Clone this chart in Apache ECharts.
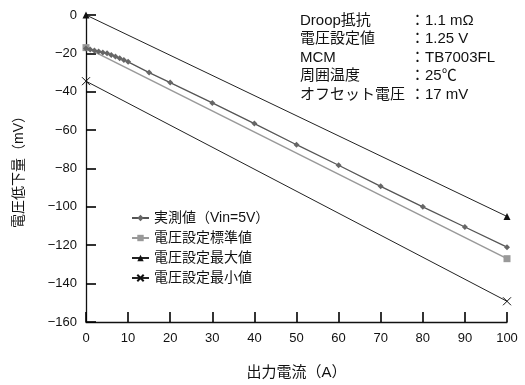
<!DOCTYPE html>
<html><head><meta charset="utf-8">
<script src="https://cdn.jsdelivr.net/npm/echarts@6/dist/echarts.min.js"></script>
<style>html,body{margin:0;padding:0;background:#fff}#c{width:525px;height:385px}</style>
</head><body><div id="c"></div>
<script>
var FONT = '"Liberation Sans", Arial, "Noto Sans CJK JP", sans-serif';
var seriesNames = ['実測値（Vin=5V）', '電圧設定標準値', '電圧設定最大値', '電圧設定最小値'];
var measuredX = [0, 1, 2, 3, 4, 5, 6, 7, 8, 9, 10, 15, 20, 30, 40, 50, 60, 70, 80, 90, 100];
var measuredY = [-17.5, -18, -18.5, -19, -19.5, -20, -20.8, -21.6, -22.5, -23.4, -24.4, -30, -35.2, -45.8, -56.6, -67.6, -78.3, -89.3, -100, -110.5, -121];
var standardX = [0, 100];
var standardY = [-17, -127];
var maxX = [0, 100];
var maxY = [0, -105];
var minX = [0, 100];
var minY = [-34.5, -149.2];
var infoLabels = ['Droop抵抗', '電圧設定値', 'MCM', '周囲温度', 'オフセット電圧'];
var infoValues = ['1.1 mΩ', '1.25 V', 'TB7003FL', '25℃', '17 mV'];
var xTitle = '出力電流（A）';
var yTitle = '電圧低下量（mV）';

function pairs(xs, ys){ return xs.map(function(x,i){ return [x, ys[i]]; }); }

var chart = echarts.init(document.getElementById('c'), null, {renderer:'canvas'});
var graphics = [];
infoLabels.forEach(function(t, i){
  var y = 13 + i*18.5;
  graphics.push({type:'text', left:300, top:y, style:{text:t, font:'15px ' + FONT, fill:'#111'}});
  graphics.push({type:'text', left:410, top:y, style:{text:'：' + infoValues[i], font:'15px ' + FONT, fill:'#111'}});
});
var tickStyle = {show:true, inside:true, length:10, lineStyle:{color:'#000', width:1.6}};
chart.setOption({
  animation:false,
  backgroundColor:'#fff',
  grid:{left:86, right:18, top:15, bottom:62},
  xAxis:{type:'value', min:0, max:100, interval:10, name:xTitle, nameLocation:'middle', nameGap:43,
    nameTextStyle:{fontFamily:FONT, fontSize:15, color:'#111'},
    axisLine:{show:true, onZero:false, lineStyle:{color:'#111', width:1.3}},
    axisTick:tickStyle,
    axisLabel:{fontFamily:FONT, fontSize:13, color:'#111', margin:10},
    splitLine:{show:false}},
  yAxis:{type:'value', min:-160, max:0, interval:20, name:yTitle, nameLocation:'middle', nameGap:60, nameRotate:90,
    nameTextStyle:{fontFamily:FONT, fontSize:14, color:'#111'},
    axisLine:{show:true, onZero:false, lineStyle:{color:'#111', width:1.3}},
    axisTick:tickStyle,
    axisLabel:{fontFamily:FONT, fontSize:13, color:'#111', margin:9, formatter:function(v){ return String(v).replace('-', '−'); }},
    splitLine:{show:false}},
  legend:{orient:'vertical', left:126, top:206, itemWidth:17, itemHeight:8, itemGap:6,
    textStyle:{fontFamily:FONT, fontSize:14, color:'#111'}, data:seriesNames},
  graphic:graphics,
  series:[
    {name:seriesNames[0], type:'line', data:pairs(measuredX, measuredY), symbol:'diamond', symbolSize:6,
      lineStyle:{color:'#555', width:1.3}, itemStyle:{color:'#666'}, z:4},
    {name:seriesNames[1], type:'line', data:pairs(standardX, standardY), symbol:'rect', symbolSize:7,
      lineStyle:{color:'#999', width:1.5}, itemStyle:{color:'#999'}, z:3},
    {name:seriesNames[2], type:'line', data:pairs(maxX, maxY), symbol:'triangle', symbolSize:7,
      lineStyle:{color:'#222', width:1}, itemStyle:{color:'#111'}},
    {name:seriesNames[3], type:'line', data:pairs(minX, minY), symbol:'path://M0,0L10,10M10,0L0,10', symbolSize:8,
      lineStyle:{color:'#222', width:1}, itemStyle:{color:'rgba(0,0,0,0)', borderColor:'#111', borderWidth:1}}
  ]
});
</script></body></html>
